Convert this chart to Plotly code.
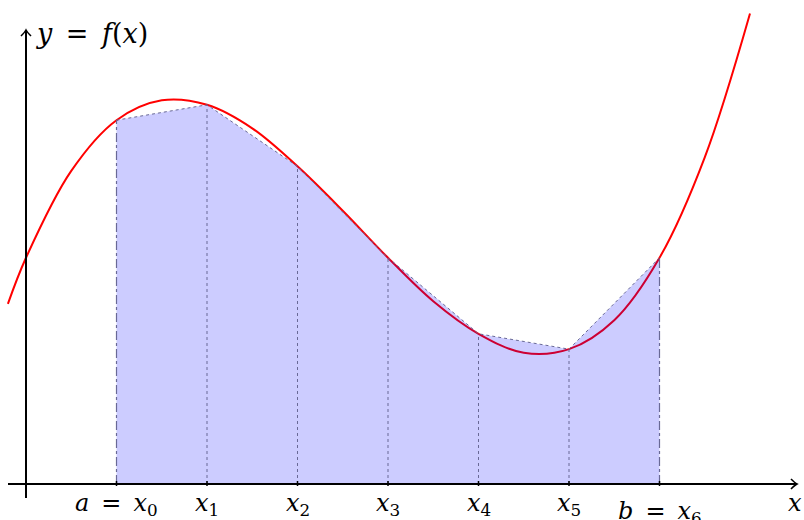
import plotly.graph_objects as go

# curve samples
curve_x = [-0.2, 0, 0.5, 1, 1.5, 2, 2.5, 3, 3.5, 4, 4.5, 5, 5.5, 6, 6.5, 7, 7.5, 8]
curve_y = [1.99, 2.5, 3.46, 4.02, 4.24, 4.19, 3.93, 3.51, 3.02, 2.5, 2.02, 1.66, 1.45, 1.49, 1.81, 2.5, 3.61, 5.2]

# trapezoid nodes
node_x = [1, 2, 3, 4, 5, 6, 7]
node_y = [4.02, 4.19, 3.51, 2.5, 1.66, 1.49, 2.5]
EQ = "&#8194;=&#8194;"
node_labels = [f"<i>a</i>{EQ}<i>x</i><sub>0</sub>", "<i>x</i><sub>1</sub>", "<i>x</i><sub>2</sub>",
               "<i>x</i><sub>3</sub>", "<i>x</i><sub>4</sub>", "<i>x</i><sub>5</sub>",
               f"<i>b</i>{EQ}<i>x</i><sub>6</sub>"]
y_label = f"<i>y</i>{EQ}<i>f</i>(<i>x</i>)"

W, H = 804, 520
PX = 90.5            # pixels per unit
X0PIX, Y0PIX = 26, 484
xr = [-X0PIX / PX, (W - X0PIX) / PX]
yr = [-(H - Y0PIX) / PX, Y0PIX / PX]
p = 1 / PX

edge = "rgb(105,105,150)"
FONT = "DejaVu Serif"

fig = go.Figure()

# red curve (under the fill)
fig.add_trace(go.Scatter(x=curve_x, y=curve_y, mode="lines", line_shape="spline",
                         line=dict(color="red", width=2), hoverinfo="skip"))

# filled trapezoids
fx = [node_x[0]] + node_x + [node_x[-1]]
fy = [0] + node_y + [0]
fig.add_trace(go.Scatter(x=fx, y=fy, mode="lines", fill="toself",
                         fillcolor="rgba(0,0,255,0.2)", line=dict(width=0), hoverinfo="skip"))

# top edge of trapezoids
fig.add_trace(go.Scatter(x=node_x, y=node_y, mode="lines",
                         line=dict(color=edge, width=1, dash="dot"), hoverinfo="skip"))
# bottom edge
fig.add_trace(go.Scatter(x=[node_x[0], node_x[-1]], y=[0, 0], mode="lines",
                         line=dict(color=edge, width=1, dash="dash"), hoverinfo="skip"))
# vertical edges
for i, (xv, yv) in enumerate(zip(node_x, node_y)):
    outer = i in (0, len(node_x) - 1)
    fig.add_trace(go.Scatter(x=[xv, xv], y=[0, yv], mode="lines",
                             line=dict(color=edge, width=1.2 if outer else 1,
                                       dash="dashdot" if outer else "dot"),
                             hoverinfo="skip"))

shapes = []
# axes
xa_start, xa_end = (8 - X0PIX) * p, (797 - X0PIX) * p
ya_start, ya_end = -(498 - Y0PIX) * p, (Y0PIX - 30) * p
shapes.append(dict(type="line", x0=xa_start, x1=xa_end, y0=0, y1=0,
                   line=dict(color="black", width=2)))
shapes.append(dict(type="line", x0=0, x1=0, y0=ya_start, y1=ya_end,
                   line=dict(color="black", width=2)))
# arrow heads (open chevrons)
shapes.append(dict(type="path",
                   path=f"M {xa_end-6*p} {5*p} Q {xa_end-2*p} {1*p} {xa_end} 0 Q {xa_end-2*p} {-1*p} {xa_end-6*p} {-5*p}",
                   line=dict(color="black", width=1.6)))
shapes.append(dict(type="path",
                   path=f"M {-5*p} {ya_end-6*p} Q {-1*p} {ya_end-2*p} 0 {ya_end} Q {1*p} {ya_end-2*p} {5*p} {ya_end-6*p}",
                   line=dict(color="black", width=1.6)))
# tick marks at nodes
for xv in node_x:
    shapes.append(dict(type="line", x0=xv, x1=xv, y0=-2 * p, y1=3 * p,
                       line=dict(color="black", width=1.5)))

annotations = []
for i, (xv, lab) in enumerate(zip(node_x, node_labels)):
    yoff = -(8 if i == len(node_x) - 1 else 0) * p
    annotations.append(dict(x=xv, y=-3 * p + yoff, text=lab, showarrow=False,
                            xanchor="center", yanchor="top",
                            font=dict(family=FONT, size=24, color="black")))
annotations.append(dict(x=(34 - X0PIX) * p, y=(Y0PIX - 33) * p,
                        text=y_label, showarrow=False,
                        xanchor="left", yanchor="middle",
                        font=dict(family=FONT, size=27, color="black")))
annotations.append(dict(x=(786 - X0PIX) * p, y=-3 * p, text="<i>x</i>", showarrow=False,
                        xanchor="left", yanchor="top",
                        font=dict(family=FONT, size=24, color="black")))

fig.update_layout(
    width=W, height=H, margin=dict(l=0, r=0, t=0, b=0),
    paper_bgcolor="white", plot_bgcolor="white", showlegend=False,
    xaxis=dict(range=xr, visible=False, fixedrange=True),
    yaxis=dict(range=yr, visible=False, fixedrange=True),
    shapes=shapes, annotations=annotations,
)

fig.write_html("out.html", config={"displayModeBar": False},
               post_script="document.body.style.margin='0';document.body.style.padding='0';document.body.style.overflow='hidden';")
